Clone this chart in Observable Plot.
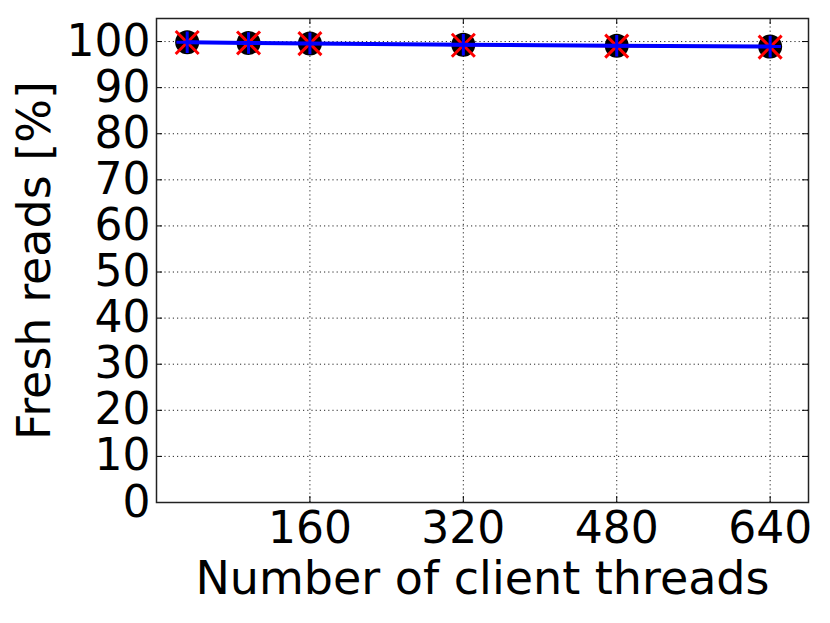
<!DOCTYPE html>
<html>
<head>
<meta charset="utf-8">
<script src="https://cdn.jsdelivr.net/npm/d3@7"></script>
<script src="https://cdn.jsdelivr.net/npm/@observablehq/plot@0.6"></script>
<style>
  html, body { margin: 0; padding: 0; background: white; }
</style>
</head>
<body>
<div id="chart"></div>
<script>
// Data
const threads = [32, 96, 160, 320, 480, 640];
const freshBlack = [99.85, 99.7, 99.6, 99.3, 99.1, 98.9];
const freshRed = [99.8, 99.7, 99.55, 99.2, 99.0, 98.8];
const freshBlue = [99.85, 99.7, 99.6, 99.3, 99.1, 98.9];
const xTicks = [160, 320, 480, 640];
const yTicks = [0, 10, 20, 30, 40, 50, 60, 70, 80, 90, 100];
const xLabel = "Number of client threads";
const yLabel = "Fresh reads [%]";

const rows = (vals) => threads.map((t, i) => ({x: t, y: vals[i]}));
const black = rows(freshBlack);
const red = rows(freshRed);
const blue = rows(freshBlue);

const W = 830, H = 623;
const mL = 156, mR = 22, mT = 18, mB = 121;
const pw = W - mL - mR, ph = H - mT - mB;
const tickLen = 6;
const gridStyle = {stroke: "#000", strokeOpacity: 0.85, strokeWidth: 1, strokeDasharray: "1.2,3"};

const chart = Plot.plot({
  width: W,
  height: H,
  marginLeft: mL,
  marginRight: mR,
  marginTop: mT,
  marginBottom: mB,
  style: {fontFamily: "DejaVu Sans", fontSize: "44px", color: "black", background: "white"},
  x: {domain: [0, 680]},
  y: {domain: [0, 105]},
  marks: [
    Plot.gridX(xTicks, gridStyle),
    Plot.gridY(yTicks.filter(d => d > 0), gridStyle),
    // inside tick marks
    Plot.tickX(xTicks, {x: d => d, insetTop: ph - tickLen, stroke: "#000", strokeWidth: 1}),
    Plot.tickX(xTicks, {x: d => d, insetBottom: ph - tickLen, stroke: "#000", strokeWidth: 1}),
    Plot.tickY(yTicks, {y: d => d, insetRight: pw - tickLen, stroke: "#000", strokeWidth: 1}),
    Plot.tickY(yTicks, {y: d => d, insetLeft: pw - tickLen, stroke: "#000", strokeWidth: 1}),
    Plot.axisX(xTicks, {tickSize: 0, tickPadding: 9, fontSize: 44, label: null}),
    Plot.axisY(yTicks, {tickSize: 0, tickPadding: 6, fontSize: 44, label: null}),
    Plot.frame({stroke: "#222", strokeWidth: 1.5}),
    // series
    Plot.dot(black, {x: "x", y: "y", r: 12, fill: "black", stroke: "none"}),
    Plot.line(red, {x: "x", y: "y", stroke: "red", strokeWidth: 2}),
    Plot.dot(red, {x: "x", y: "y", symbol: "times", r: 10.5, stroke: "red", strokeWidth: 3, fill: "none"}),
    Plot.line(blue, {x: "x", y: "y", stroke: "blue", strokeWidth: 4}),
    Plot.dot(blue, {x: "x", y: "y", symbol: "plus", r: 7, stroke: "blue", strokeWidth: 3, fill: "none"}),
    // axis labels
    Plot.text([yLabel], {text: d => d, frameAnchor: "left", textAnchor: "middle", lineAnchor: "middle", rotate: -90, dx: -121, fontSize: 46, fill: "black"}),
    Plot.text([xLabel], {text: d => d, frameAnchor: "bottom", textAnchor: "middle", lineAnchor: "middle", dy: 77, fontSize: 46, fill: "black"})
  ]
});

document.getElementById("chart").appendChild(chart);
</script>
</body>
</html>
